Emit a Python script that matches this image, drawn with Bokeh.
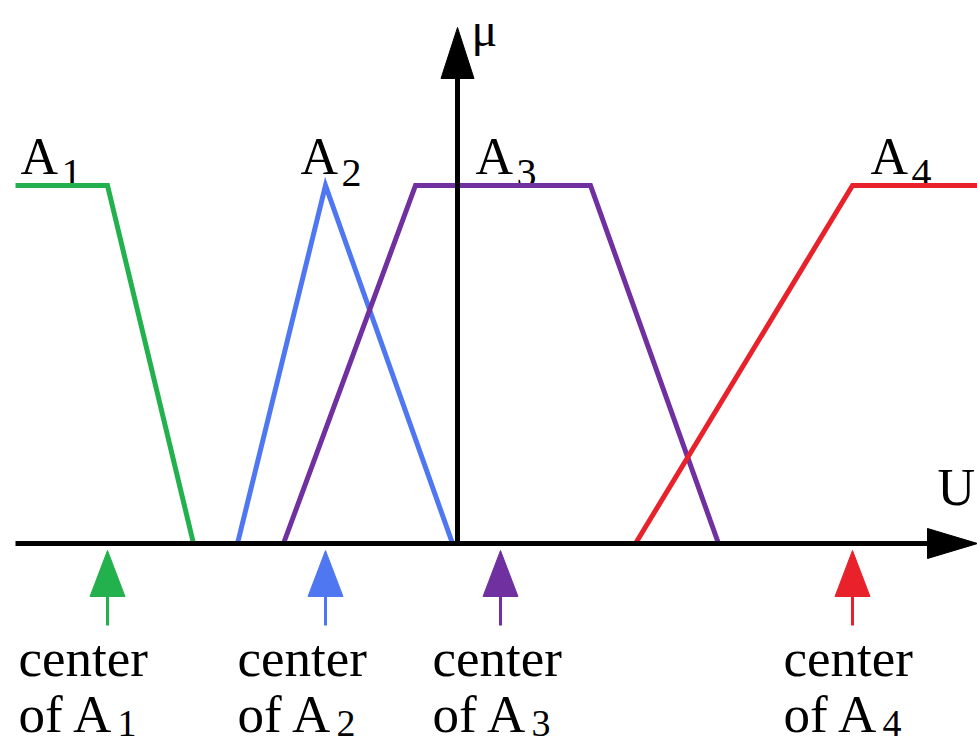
from bokeh.plotting import figure
from bokeh.models import Range1d
from bokeh.embed import file_html
from bokeh.resources import INLINE
from bokeh.core.properties import value

# ---- data: membership functions (universe u, membership mu) ----
a1_u = [-4.42, -3.50, -2.64]
a1_mu = [1, 1, 0]
a2_u = [-2.20, -1.32, -0.05]
a2_mu = [0, 1, 0]
a3_u = [-1.74, -0.42, 1.33, 2.61]
a3_mu = [0, 1, 1, 0]
a4_u = [1.78, 3.95, 5.20]
a4_mu = [0, 1, 1]
centers = [-3.50, -1.32, 0.43, 3.95]
subs = ["1", "2", "3", "4"]
colors = ["#22b14c", "#4f77f2", "#7030a0", "#e8212b"]

# label anchor positions (u of left edge)
set_label_u = [-4.37, -1.57, 0.18, 4.13]
center_label_u = [-4.39, -2.20, -0.25, 3.26]

PX_U = 100.0   # pixels per u unit
PX_MU = 358.0  # pixels per mu unit
def du(px):
    return px / PX_U
def dm(px):
    return px / PX_MU

FONT = value("Liberation Serif")
W, H = 977, 747
X0, Y0 = 457, 543  # pixel position of the origin

def ty(baseline_px, size):
    # data y for a text whose visible baseline should sit at baseline_px
    return dm(Y0 - (baseline_px - 0.36 * size))

p = figure(width=W, height=H, x_range=Range1d(du(-X0), du(W - X0)),
           y_range=Range1d(dm(Y0 - H), dm(Y0)), output_backend="svg",
           toolbar_location=None, min_border=0)
p.xaxis.visible = False
p.yaxis.visible = False
p.grid.visible = False
p.outline_line_color = None
p.background_fill_color = "white"

def label(xs, baseline_px, texts, size):
    p.text(x=xs, y=[ty(baseline_px, size)] * len(xs), text=texts, text_font=FONT,
           text_font_size=f"{size}px", text_baseline="alphabetic", text_align="left",
           text_color="black")

# set labels A1..A4
label(set_label_u, 175, ["A"] * 4, 52)
label([u + du(41) for u in set_label_u], 187, subs, 40)

# membership functions
for us, ms, c in zip([a1_u, a2_u, a3_u, a4_u], [a1_mu, a2_mu, a3_mu, a4_mu], colors):
    p.line(us, ms, line_color=c, line_width=5, line_join="miter")

# center arrows and labels
tip = dm(-7)
base = dm(-53)
shaft_end = dm(-82)
hw = du(17.5)
for c, col in zip(centers, colors):
    p.patch([c, c - hw, c + hw], [tip, base, base], fill_color=col, line_color=col)
    p.segment(x0=[c], y0=[base], x1=[c], y1=[shaft_end], line_color=col, line_width=3)

label(center_label_u, 677, ["center"] * 4, 53)
label(center_label_u, 733, ["of A"] * 4, 53)
label([u + du(99) for u in center_label_u], 737, subs, 38)

# axes
u_start = a1_u[0]
u_tip = a4_u[-1]
head_len_u = du(50)
head_hw_mu = dm(15)
p.segment(x0=[u_start], y0=[0], x1=[u_tip - head_len_u + du(4)], y1=[0],
          line_color="black", line_width=5)
p.patch([u_tip, u_tip - head_len_u, u_tip - head_len_u],
        [0, head_hw_mu, -head_hw_mu], fill_color="black", line_color="black")

mu_tip = dm(543 - 27)
head_len_mu = dm(51)
head_hw_u = du(16.5)
p.segment(x0=[0], y0=[0], x1=[0], y1=[mu_tip - head_len_mu + dm(4)],
          line_color="black", line_width=5)
p.patch([0, -head_hw_u, head_hw_u], [mu_tip, mu_tip - head_len_mu, mu_tip - head_len_mu],
        fill_color="black", line_color="black")

# axis labels
label([du(471 - 457)], 46, ["μ"], 48)
label([du(937 - 457)], 506, ["U"], 52)

open("out.html", "w").write(file_html(p, INLINE))
